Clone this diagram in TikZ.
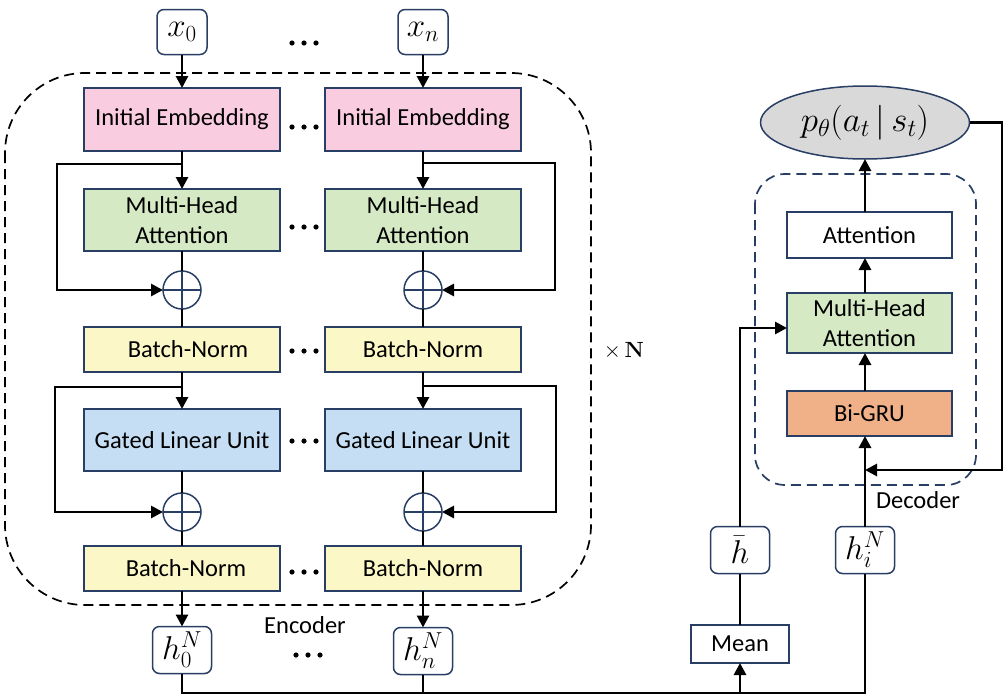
\RequirePackage{fix-cm}
\documentclass[tikz,border=0pt]{standalone}
\usepackage[no-math]{fontspec}
\setmainfont{Carlito}
\usetikzlibrary{arrows.meta,shapes.geometric}
\definecolor{bd}{RGB}{40,62,100}
\definecolor{cpink}{RGB}{249,204,223}
\definecolor{cgreen}{RGB}{214,233,197}
\definecolor{cyellow}{RGB}{252,247,199}
\definecolor{cblue}{RGB}{197,222,243}
\definecolor{corange}{RGB}{240,176,136}
\definecolor{cgray}{RGB}{217,217,217}
\begin{document}
\begin{tikzpicture}[x=1pt,y=-1pt,
  every node/.style={inner sep=0pt,outer sep=0pt},
  blk/.style={draw=bd,line width=1.5pt,rectangle,minimum width=196pt,align=center,font=\fontsize{24.5}{30}\selectfont},
  dblk/.style={blk,minimum width=165pt},
  inbox/.style={draw=bd,line width=1.5pt,rounded corners=7pt,minimum width=50pt,minimum height=45pt,fill=white,font=\fontsize{33}{36}\selectfont},
  hbox/.style={inbox,minimum width=59pt,minimum height=47pt},
  pl/.style={circle,draw=bd,line width=1.5pt,minimum size=38pt,
    path picture={\draw[bd,line width=1.3pt] (path picture bounding box.north) -- (path picture bounding box.south) (path picture bounding box.west) -- (path picture bounding box.east);}},
  arr/.style={line width=2.8pt,-{Triangle[length=12pt,width=12pt]}},
  ln/.style={line width=2.8pt},
  lbl/.style={font=\fontsize{24.5}{30}\selectfont},
  encbox/.style={draw=black,line width=1.7pt,dash pattern=on 10pt off 6pt,rounded corners=80pt},
  decbox/.style={draw=bd,line width=1.7pt,dash pattern=on 10pt off 6pt,rounded corners=30pt}]
\useasboundingbox (0,0) rectangle (1008,696);

% encoder frame
\draw[encbox] (5,73) rectangle (591,605);
\node[lbl] (enc) at (305,625) {Encoder};
\node[font=\fontsize{22}{26}\selectfont] (xN) at (624,351) {$\times\,\mathbf{N}$};

% inputs
\node[inbox] (x0) at (182,32) {$x_0$};
\node[inbox] (xn) at (423,32) {$x_n$};

% left column
\node[blk,fill=cpink,minimum height=63pt] (ie0) at (182,119.5) {Initial Embedding};
\node[blk,fill=cgreen,minimum height=62pt] (mha0) at (182,220) {Multi-Head\\Attention};
\node[pl] (p0) at (182,290) {};
\node[blk,fill=cyellow,minimum height=45pt] (bn0) at (182,349.5) {\hspace*{12pt}Batch-Norm};
\node[blk,fill=cblue,minimum height=62pt] (glu0) at (182,440) {Gated Linear Unit};
\node[pl] (q0) at (182,512) {};
\node[blk,fill=cyellow,minimum height=45pt] (bm0) at (182,568.5) {\hspace*{8pt}Batch-Norm};
\node[hbox] (h0) at (182,650) {$h_0^N$};

% right column
\node[blk,fill=cpink,minimum height=63pt] (ien) at (423,119.5) {Initial Embedding};
\node[blk,fill=cgreen,minimum height=62pt] (mhan) at (423,220) {Multi-Head\\Attention};
\node[pl] (pn) at (423,290) {};
\node[blk,fill=cyellow,minimum height=45pt] (bnn) at (423,349.5) {Batch-Norm};
\node[blk,fill=cblue,minimum height=62pt] (glun) at (423,440) {Gated Linear Unit};
\node[pl] (qn) at (423,512) {};
\node[blk,fill=cyellow,minimum height=45pt] (bmn) at (423,568.5) {Batch-Norm};
\node[hbox] (hn) at (423,651) {$h_n^N$};

% dots
\foreach \yy/\xx in {43/304,127/304,227/304,351/304,441/304,572/304,655/308}
  \foreach \dx in {-12,0,12}
    \fill (\xx+\dx,\yy) circle (2.6pt);

% left column connectors
\coordinate (j0) at (182,164);
\coordinate (k0) at (182,387);
\draw[arr] (x0) -- (ie0);
\draw[arr] (ie0) -- (mha0);
\draw[ln] (mha0) -- (p0);
\draw[ln] (p0) -- (bn0);
\draw[arr] (j0) -- (57,164) |- (p0.west);
\draw[arr] (bn0) -- (glu0);
\draw[ln] (glu0) -- (q0);
\draw[ln] (q0) -- (bm0);
\draw[arr] (k0) -- (55,387) |- (q0.west);
\draw[arr] (bm0) -- (h0);

% right column connectors
\coordinate (jn) at (423,163);
\coordinate (kn) at (423,386);
\draw[arr] (xn) -- (ien);
\draw[arr] (ien) -- (mhan);
\draw[ln] (mhan) -- (pn);
\draw[ln] (pn) -- (bnn);
\draw[arr] (jn) -- (555,163) |- (pn.east);
\draw[arr] (bnn) -- (glun);
\draw[ln] (glun) -- (qn);
\draw[ln] (qn) -- (bmn);
\draw[arr] (kn) -- (556,386) |- (qn.east);
\draw[arr] (bmn) -- (hn);

% decoder
\draw[decbox] (755,174) rectangle (976,485);
\node[lbl] (dec) at (918,500) {Decoder};
\node[ellipse,draw=bd,line width=1.5pt,fill=cgray,minimum width=209pt,minimum height=73pt,font=\fontsize{35}{38}\selectfont] (pol) at (865,122.5) {$p_\theta(a_t\,|\,s_t)$};
\node[dblk,fill=white,minimum height=46pt] (att) at (869.5,235) {Attention};
\node[dblk,fill=cgreen,minimum height=60pt] (dmha) at (869.5,323) {Multi-Head\\Attention};
\node[dblk,fill=corange,minimum height=45pt] (gru) at (869.5,413.5) {Bi-GRU};
\node[hbox] (hbar) at (740,550) {$\bar{h}$};
\node[hbox] (hi) at (865,550) {$h_i^N$};
\node[blk,minimum width=98pt,minimum height=38pt] (mean) at (740,644) {Mean};

\coordinate (fb) at (865,470);
\coordinate (b0) at (182,693);
\coordinate (bn) at (423,693);
\coordinate (bm) at (740,693);
\coordinate (bi) at (865,693);

\draw[ln] (h0) -- (b0) -- (bi) -- (hi);
\draw[ln] (hn) -- (bn);
\draw[arr] (bm) -- (mean);
\draw[ln] (mean) -- (hbar);
\draw[arr] (hbar.north) |- ([yshift=-5pt]dmha.west);
\draw[arr] (hi) -- (gru.south -| hi);
\draw[arr] (gru.north -| hi) -- (dmha.south -| hi);
\draw[arr] (dmha.north -| hi) -- (att.south -| hi);
\draw[arr] (att.north -| hi) -- (pol);
\draw[arr] (pol.east) -- (1002,122.5) |- (fb);
\end{tikzpicture}
\end{document}
